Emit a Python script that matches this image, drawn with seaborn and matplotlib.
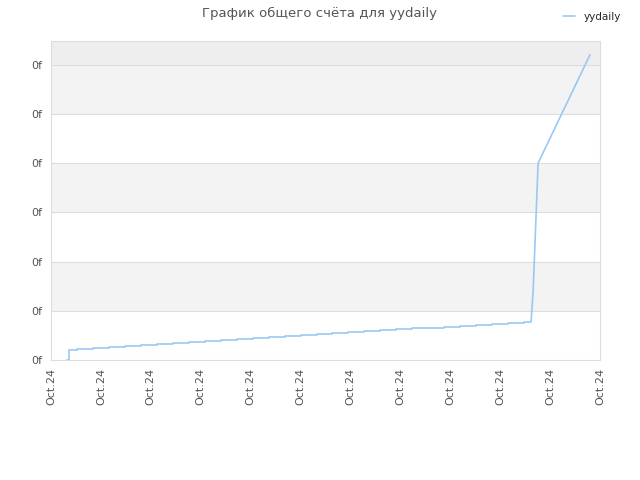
import numpy as np
import pandas as pd
import seaborn as sns
import matplotlib
matplotlib.use("Agg")
import matplotlib.pyplot as plt

# tick labels along x (all the same date in the source)
tick_labels = ["Oct.24"] * 12
tick_pos = list(range(12))
ytick_labels = ["0f"] * 7

# slow staircase part of the total score
step_x = [0.32, 0.36, 0.52, 0.84, 1.16, 1.48, 1.80, 2.12, 2.44, 2.76, 3.08,
          3.40, 3.72, 4.04, 4.36, 4.68, 5.00, 5.32, 5.64, 5.96, 6.28,
          6.60, 6.92, 7.24, 7.56, 7.88, 8.20, 8.52, 8.84, 9.16, 9.48, 9.62]
step_y = [0.00, 0.20, 0.22, 0.24, 0.26, 0.28, 0.30, 0.32, 0.34, 0.36, 0.38,
          0.40, 0.42, 0.44, 0.46, 0.48, 0.50, 0.52, 0.54, 0.56, 0.58,
          0.60, 0.62, 0.64, 0.66, 0.68, 0.70, 0.72, 0.74, 0.76, 0.78, 0.79]

# jump and linear tail
tail_x = [9.62, 9.66, 9.76, 10.80]
tail_y = [0.79, 1.40, 4.00, 6.20]

line_color = "#99c8f5"

sns.set_style("white")
plt.rcParams['font.family'] = ['DejaVu Sans']

fig = plt.figure(figsize=(6.4, 4.8), dpi=100)
ax = fig.add_axes([0.0797, 0.25, 0.8578, 0.6646])

# alternating bands
for lo in [1, 3, 5]:
    ax.axhspan(lo, lo + 1, color="#f3f3f3", zorder=0, lw=0)
ax.axhspan(6, 6.48, color="#eeeeee", zorder=0, lw=0)
for g in range(1, 7):
    ax.axhline(g, color="#dddddd", lw=0.8, zorder=1)

df_steps = pd.DataFrame({"x": step_x, "y": step_y})
df_tail = pd.DataFrame({"x": tail_x, "y": tail_y})
sns.lineplot(data=df_steps, x="x", y="y", ax=ax, color=line_color, lw=1.2,
             drawstyle="steps-post", label="yydaily", zorder=3)
sns.lineplot(data=df_tail, x="x", y="y", ax=ax, color=line_color, lw=1.2,
             zorder=3)

ax.set_xlim(0, 11)
ax.set_ylim(0, 6.48)
ax.set_xticks(tick_pos)
ax.set_xticklabels(tick_labels, rotation=90, fontsize=8, color="#555555")
ax.set_yticks(range(7))
ax.set_yticklabels(ytick_labels, fontsize=8, color="#555555")
ax.tick_params(length=0, pad=6)
ax.set_xlabel("")
ax.set_ylabel("")
for s in ax.spines.values():
    s.set_color("#dddddd")
    s.set_linewidth(0.8)

ax.get_legend().remove()
handles, labels = ax.get_legend_handles_labels()
fig.legend(handles[:1], labels[:1], loc="upper right", bbox_to_anchor=(0.985, 0.995),
           frameon=False, fontsize=7.5, handlelength=1.2, handletextpad=0.8)

fig.suptitle("График общего счёта для yydaily", y=0.985, fontsize=9.5,
             color="#555555")

fig.savefig("out.png", dpi=100)
